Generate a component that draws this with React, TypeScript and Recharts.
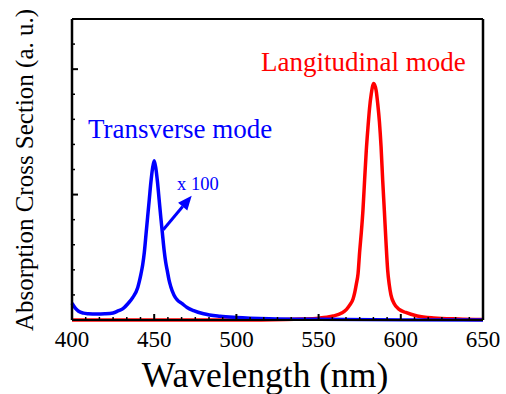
import { LineChart, Line, XAxis, YAxis, ReferenceLine } from 'recharts';

// transverse mode (x100)
const transverseNm = [400, 402, 404, 407, 410, 415, 420, 425, 428, 431, 434, 437, 440, 441, 442, 443, 444, 445, 446, 447, 448, 449, 450, 451, 452, 453, 454, 455, 456, 457, 458, 459, 460, 462, 464, 467, 470, 474, 480, 490, 500, 520, 550, 600, 650];
const transverseAbs = [0.135, 0.095, 0.07, 0.055, 0.05, 0.047, 0.049, 0.056, 0.072, 0.09, 0.13, 0.18, 0.26, 0.31, 0.37, 0.44, 0.54, 0.68, 0.82, 0.96, 1.1, 1.21, 1.27, 1.21, 1.1, 0.96, 0.82, 0.69, 0.56, 0.46, 0.39, 0.32, 0.27, 0.2, 0.16, 0.13, 0.1, 0.075, 0.05, 0.03, 0.02, 0.01, 0.005, 0.001, 0];

// longitudinal mode
const longitudinalNm = [400, 450, 500, 530, 540, 550, 555, 559, 564, 567, 569, 571, 572, 573, 574, 575, 576, 577, 578, 579, 580, 581, 582, 583.5, 585, 586, 587, 588, 589, 590, 591, 592, 593, 594, 596, 599, 603, 610, 620, 635, 650];
const longitudinalAbs = [0, 0, 0, 0.004, 0.008, 0.015, 0.022, 0.032, 0.055, 0.085, 0.12, 0.17, 0.22, 0.29, 0.37, 0.55, 0.7, 0.88, 1.12, 1.35, 1.53, 1.69, 1.8, 1.886, 1.83, 1.72, 1.58, 1.38, 1.11, 0.87, 0.62, 0.4, 0.28, 0.2, 0.13, 0.085, 0.06, 0.032, 0.016, 0.008, 0.004];

const xMajor = [400, 450, 500, 550, 600, 650];
const yMajor = [0, 1, 2];

const transverseData = transverseNm.map((x, i) => ({ x, y: transverseAbs[i] }));
const longitudinalData = longitudinalNm.map((x, i) => ({ x, y: longitudinalAbs[i] }));

const xTicks: number[] = [];
xMajor.forEach((v, i) => {
  xTicks.push(v);
  if (i < xMajor.length - 1) for (let k = 1; k < 6; k++) xTicks.push(v + (50 * k) / 6);
});
const yTicks: number[] = [];
for (let k = 0; k <= 12; k++) yTicks.push(Math.round(k * 20) / 100);

const FONT = '"Liberation Serif", "Times New Roman", serif';
const isMajorX = (v: number) => xMajor.includes(v);
const isMajorY = (v: number) => yMajor.some((m) => Math.abs(m - v) < 1e-6);

const BottomTick = ({ x, y, payload }: any) => {
  const major = isMajorX(payload.value);
  return (
    <g>
      <line x1={x} x2={x} y1={y} y2={y - (major ? 6 : 3)} stroke="#000" strokeWidth={major ? 2 : 1.5} />
      {major && (
        <text x={x} y={y + 27} textAnchor="middle" fontSize={23} fontFamily={FONT} fill="#000">
          {payload.value}
        </text>
      )}
    </g>
  );
};

const TopTick = ({ x, y, payload }: any) => {
  const major = isMajorX(payload.value);
  return <line x1={x} x2={x} y1={y} y2={y + (major ? 6 : 3)} stroke="#000" strokeWidth={major ? 2 : 1.5} />;
};

const LeftTick = ({ x, y, payload }: any) => {
  const major = isMajorY(payload.value);
  return <line x1={x} x2={x + (major ? 6 : 3)} y1={y} y2={y} stroke="#000" strokeWidth={major ? 2 : 1.5} />;
};

const RightTick = ({ x, y, payload }: any) => {
  const major = isMajorY(payload.value);
  return <line x1={x} x2={x - (major ? 6 : 3)} y1={y} y2={y} stroke="#000" strokeWidth={major ? 2 : 1.5} />;
};

const Arrow = ({ x1, y1, x2, y2 }: any) => {
  const ang = Math.atan2(y2 - y1, x2 - x1);
  const len = 14;
  const half = 6;
  const bx = x2 - len * Math.cos(ang);
  const by = y2 - len * Math.sin(ang);
  const px = -Math.sin(ang) * half;
  const py = Math.cos(ang) * half;
  return (
    <g>
      <line x1={x1} y1={y1} x2={bx} y2={by} stroke="#0000ff" strokeWidth={3} />
      <polygon points={`${x2},${y2} ${bx + px},${by + py} ${bx - px},${by - py}`} fill="#0000ff" />
    </g>
  );
};

export default function App() {
  return (
    <div style={{ position: 'absolute', left: 0, top: 0 }}>
      <LineChart width={506} height={394} margin={{ top: 18, right: 22, bottom: 73, left: 71 }}>
        <XAxis
          xAxisId="b"
          type="number"
          dataKey="x"
          domain={[400, 650]}
          ticks={xTicks}
          interval={0}
          height={1}
          tickSize={0}
          tickMargin={0}
          tickLine={false}
          tick={<BottomTick />}
          axisLine={{ stroke: '#000', strokeWidth: 2 }}
        />
        <XAxis
          xAxisId="t"
          orientation="top"
          type="number"
          dataKey="x"
          domain={[400, 650]}
          ticks={xTicks}
          interval={0}
          height={1}
          tickSize={0}
          tickMargin={0}
          tickLine={false}
          tick={<TopTick />}
          axisLine={{ stroke: '#000', strokeWidth: 2 }}
        />
        <YAxis
          yAxisId="l"
          type="number"
          domain={[0, 2.4]}
          ticks={yTicks}
          interval={0}
          width={1}
          tickSize={0}
          tickMargin={0}
          tickLine={false}
          tick={<LeftTick />}
          axisLine={{ stroke: '#000', strokeWidth: 2.5 }}
        />
        <YAxis
          yAxisId="r"
          orientation="right"
          type="number"
          domain={[0, 2.4]}
          ticks={yTicks}
          interval={0}
          width={1}
          tickSize={0}
          tickMargin={0}
          tickLine={false}
          tick={<RightTick />}
          axisLine={{ stroke: '#000', strokeWidth: 2.5 }}
        />
        <Line
          xAxisId="b"
          yAxisId="l"
          data={longitudinalData}
          dataKey="y"
          type="monotone"
          stroke="#ff0000"
          strokeWidth={3.5}
          dot={false}
          isAnimationActive={false}
        />
        <Line
          xAxisId="b"
          yAxisId="l"
          data={transverseData}
          dataKey="y"
          type="monotone"
          stroke="#0000ff"
          strokeWidth={3.5}
          dot={false}
          isAnimationActive={false}
        />
        <ReferenceLine
          xAxisId="b"
          yAxisId="l"
          segment={[{ x: 455.5, y: 0.72 }, { x: 472.8, y: 0.99 }]}
          shape={<Arrow />}
        />
        <text x={88} y={138} fontSize={27} fontFamily={FONT} fill="#0000ff">Transverse mode</text>
        <text x={261} y={71} fontSize={27} fontFamily={FONT} fill="#ff0000">Langitudinal mode</text>
        <text x={177} y={190} fontSize={18.5} fontFamily={FONT} fill="#0000ff">x 100</text>
        <text x={265} y={387} fontSize={35.5} fontFamily={FONT} fill="#000" textAnchor="middle">Wavelength (nm)</text>
        <text
          x={33}
          y={170}
          fontSize={25}
          fontFamily={FONT}
          fill="#000"
          textAnchor="middle"
          transform="rotate(-90, 33, 170)"
        >
          Absorption Cross Section (a. u.)
        </text>
      </LineChart>
    </div>
  );
}
